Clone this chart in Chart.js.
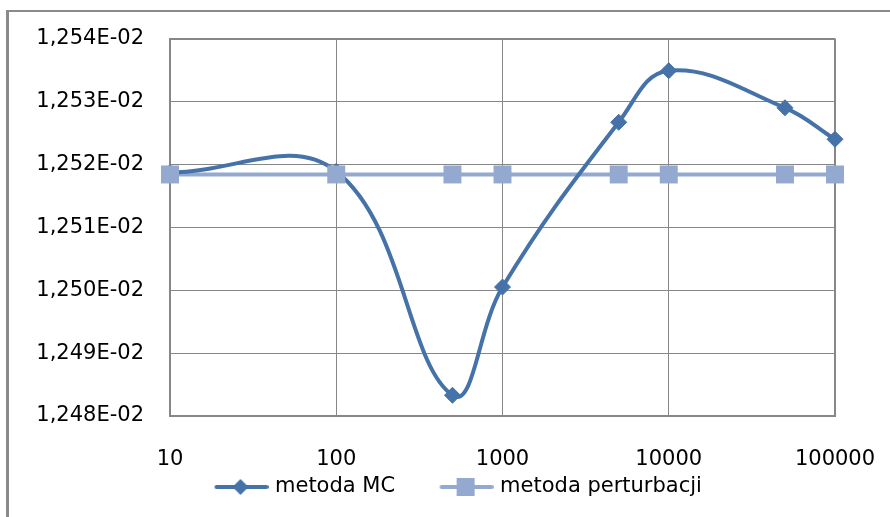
<!DOCTYPE html>
<html>
<head>
<meta charset="utf-8">
<script src="https://cdn.jsdelivr.net/npm/chart.js@4.4.1/dist/chart.umd.min.js"></script>
<style>
  html, body { margin: 0; padding: 0; background: #fff; overflow: hidden; }
  #wrap { position: relative; width: 890px; height: 517px; overflow: hidden; }
  #frame { position: absolute; left: 6px; top: 10px; width: 1000px; height: 700px;
           border-left: 3px solid #8a8a8a; border-top: 2px solid #8a8a8a; pointer-events: none; }
  canvas { position: absolute; left: 0; top: 0; }
</style>
</head>
<body>
<div id="wrap">
  <canvas id="c" width="890" height="517"></canvas>
  <div id="frame"></div>
</div>
<script>
// ---- data ----
const xValues = [10, 100, 500, 1000, 5000, 10000, 50000, 100000];
const mcValues = [0.0125187, 0.0125189, 0.0124833, 0.0125005, 0.0125267, 0.0125349, 0.0125290, 0.0125240];
const pertValues = [0.0125184, 0.0125184, 0.0125184, 0.0125184, 0.0125184, 0.0125184, 0.0125184, 0.0125184];
const xTicks = [10, 100, 1000, 10000, 100000];
const xTickLabels = ["10", "100", "1000", "10000", "100000"];
const yTicks = [0.01248, 0.01249, 0.01250, 0.01251, 0.01252, 0.01253, 0.01254];
const yTickLabels = ["1,248E-02", "1,249E-02", "1,250E-02", "1,251E-02", "1,252E-02", "1,253E-02", "1,254E-02"];
const seriesNames = ["metoda MC", "metoda perturbacji"];

const MC_COLOR = '#4572a8';
const PERT_COLOR = '#93a9d0';
const GRID = '#878787';

// legend sample images: 96 px wide, line drawn from 42.5 to 95.5, marker at 68
function legendImage(kind) {
  const cv = document.createElement('canvas');
  cv.width = 96; cv.height = 20;
  const g = cv.getContext('2d');
  const col = kind === 0 ? MC_COLOR : PERT_COLOR;
  g.strokeStyle = col; g.lineWidth = 4; g.lineCap = 'round';
  g.beginPath(); g.moveTo(44, 10); g.lineTo(94, 10); g.stroke();
  g.fillStyle = col;
  if (kind === 0) {
    g.beginPath(); g.moveTo(68, 2); g.lineTo(76, 10); g.lineTo(68, 18); g.lineTo(60, 10); g.closePath(); g.fill();
  } else {
    g.fillRect(59, 1, 18, 18);
  }
  return cv;
}
const legendImgs = [legendImage(0), legendImage(1)];

Chart.defaults.font.family = "'DejaVu Sans'";
Chart.defaults.font.size = 21;
Chart.defaults.color = '#000';

const pts = (vals) => xValues.map((x, i) => ({x: x, y: vals[i]}));

new Chart(document.getElementById('c'), {
  type: 'line',
  data: {
    datasets: [
      {
        label: seriesNames[0], data: pts(mcValues), order: 1,
        borderColor: MC_COLOR, backgroundColor: MC_COLOR, borderWidth: 4,
        pointStyle: 'rectRot', pointRadius: 8, pointBorderWidth: 1,
        pointBackgroundColor: MC_COLOR, pointBorderColor: MC_COLOR,
        tension: 0.4, cubicInterpolationMode: 'default', clip: false
      },
      {
        label: seriesNames[1], data: pts(pertValues), order: 2,
        borderColor: PERT_COLOR, backgroundColor: PERT_COLOR, borderWidth: 4,
        pointRadius: 0, tension: 0, clip: false
      },
      {
        label: seriesNames[1], data: pts(pertValues), order: 0, showLine: false,
        borderColor: PERT_COLOR, backgroundColor: PERT_COLOR,
        pointStyle: 'rect', pointRadius: 12.7, pointBorderWidth: 0,
        pointBackgroundColor: PERT_COLOR, clip: false
      }
    ]
  },
  options: {
    responsive: false,
    animation: false,
    events: [],
    layout: { padding: { left: 0, right: 55, top: 38, bottom: 9.5 } },
    scales: {
      x: {
        type: 'logarithmic', min: 10, max: 100000,
        afterBuildTicks: (s) => { s.ticks = xTicks.map(v => ({value: v})); },
        afterFit: (s) => { s.height = 54; s.paddingRight = 0; s.paddingLeft = 0; },
        ticks: { padding: 31, autoSkip: false, maxRotation: 0,
                 callback: (v, i) => xTickLabels[i] },
        grid: { color: GRID, lineWidth: (c) => (c.index === xTicks.length - 1 ? 2 : 1), drawTicks: false },
        border: { color: GRID, width: 2 }
      },
      y: {
        type: 'linear', min: 0.01248, max: 0.01254,
        afterBuildTicks: (s) => { s.ticks = yTicks.map(v => ({value: v})); },
        afterFit: (s) => { s.width = 170; },
        ticks: { padding: 26, autoSkip: false, callback: (v, i) => yTickLabels[i] },
        grid: { color: GRID, lineWidth: (c) => (c.index === yTicks.length - 1 ? 2 : 1), drawTicks: false },
        border: { color: GRID, width: 2 }
      }
    },
    plugins: {
      tooltip: { enabled: false },
      legend: {
        position: 'bottom',
        fullSize: false,
        align: 'start',
        labels: {
          usePointStyle: true, pointStyleWidth: 88, padding: 6.5,
          generateLabels: (chart) => {
            const items = Chart.defaults.plugins.legend.labels.generateLabels(chart);
            return items.filter(it => it.datasetIndex !== 2)
              .sort((a, b) => a.datasetIndex - b.datasetIndex)
              .map(it => Object.assign(it, { pointStyle: legendImgs[it.datasetIndex] }));
          }
        }
      }
    }
  }
});
</script>
</body>
</html>
